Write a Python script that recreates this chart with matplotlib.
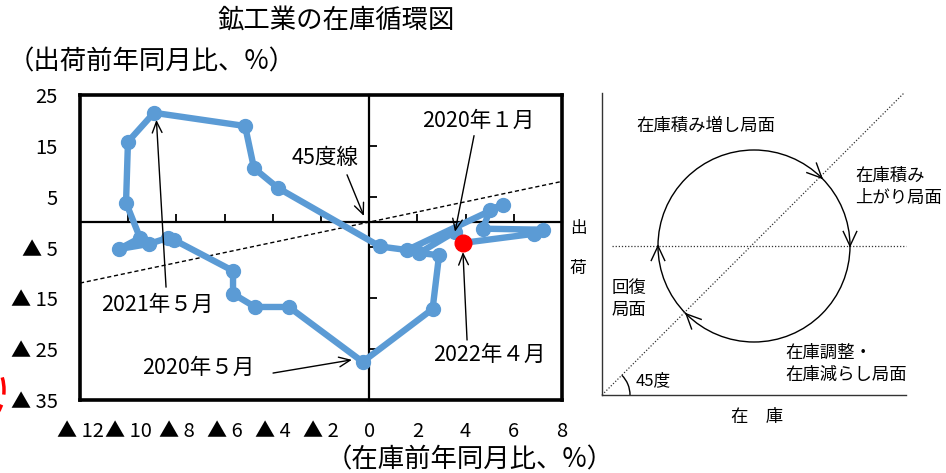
import matplotlib
matplotlib.use('Agg')
import matplotlib.pyplot as plt
from matplotlib.patches import Circle, Arc, Ellipse
import numpy as np

plt.rcParams['font.family'] = ['Noto Sans CJK JP', 'DejaVu Sans']

# ---- data (2020/1 .. 2022/4) ----
months = ['2020/1', '2020/2', '2020/3', '2020/4', '2020/5', '2020/6', '2020/7',
          '2020/8', '2020/9', '2020/10', '2020/11', '2020/12', '2021/1', '2021/2',
          '2021/3', '2021/4', '2021/5', '2021/6', '2021/7', '2021/8', '2021/9',
          '2021/10', '2021/11', '2021/12', '2022/1', '2022/2', '2022/3', '2022/4']
inventory_yoy = [3.56, 2.07, 2.90, 2.63, -0.27, -3.33, -4.74, -5.65, -5.65, -8.10,
                 -8.35, -9.14, -10.38, -9.51, -10.09, -10.01, -8.93, -5.15, -4.78,
                 -3.78, 0.45, 1.57, 5.55, 5.01, 4.72, 7.21, 6.84, 3.89]
shipments_yoy = [-1.9, -6.1, -6.5, -17.1, -27.5, -16.7, -16.7, -14.1, -9.6, -3.5,
                 -3.1, -4.3, -5.3, -3.1, 3.8, 15.8, 21.5, 18.9, 10.6, 6.7, -4.8,
                 -5.5, 3.4, 2.4, -1.3, -1.5, -2.3, -4.1]

x_ticks = [-12, -10, -8, -6, -4, -2, 0, 2, 4, 6, 8]
x_ticklabels = ['▲ 12', '▲ 10', '▲ 8', '▲ 6', '▲ 4', '▲ 2', '0', '2', '4', '6', '8']
y_ticks = [25, 15, 5, -5, -15, -25, -35]
y_ticklabels = ['25', '15', '5', '▲ 5', '▲ 15', '▲ 25', '▲ 35']
inner_x_ticks = [-10, -8, -6, -4, -2, 2, 4, 6]
inner_y_ticks = [15, 5, -5, -15, -25]

W, H = 946, 473
fig = plt.figure(figsize=(W / 100, H / 100), dpi=100)
rect = [80 / W, 1 - 400 / H, 482 / W, 305 / H]

# zero-axes (behind data)
ax0 = fig.add_axes(rect)
ax0.set_xlim(-12, 8)
ax0.set_ylim(-35, 25)
ax0.patch.set_visible(False)
for s in ['top', 'right']:
    ax0.spines[s].set_visible(False)
ax0.spines['left'].set_position(('data', 0))
ax0.spines['bottom'].set_position(('data', 0))
for s in ['left', 'bottom']:
    ax0.spines[s].set_linewidth(1.6)
ax0.set_xticks(inner_x_ticks)
ax0.set_yticks(inner_y_ticks)
ax0.tick_params(direction='in', length=6, width=1.3, labelleft=False, labelbottom=False)
ax0.set_zorder(1)

# main axes
ax = fig.add_axes(rect)
ax.set_xlim(-12, 8)
ax.set_ylim(-35, 25)
ax.patch.set_visible(False)
ax.set_zorder(2)
for s in ax.spines.values():
    s.set_linewidth(2.6)
    s.set_color('black')
ax.set_xticks(x_ticks)
ax.set_xticklabels(x_ticklabels)
ax.set_yticks(y_ticks)
ax.set_yticklabels(y_ticklabels)
ax.tick_params(axis='x', length=0, pad=15, labelsize=14.5)
ax.tick_params(axis='y', length=0, pad=16, labelsize=14.5)

# 45 degree line
diag = np.array([-12, 8])
ax.plot(diag, diag, color='black', lw=1.0, dashes=(3, 2), zorder=2)

# cycle path
ax.plot(inventory_yoy, shipments_yoy, '-o', color='#5B9BD5', lw=4.6, ms=10,
        solid_joinstyle='round', zorder=3)
ax.plot(inventory_yoy[-1], shipments_yoy[-1], 'o', color='#FF0000', ms=12, zorder=4)

# annotations
ap = dict(arrowstyle='->,head_length=0.8,head_width=0.35', lw=1.0, color='black',
          shrinkA=0, shrinkB=0)
i20_1 = months.index('2020/1')
i21_5 = months.index('2021/5')
i20_5 = months.index('2020/5')
i22_4 = months.index('2022/4')
ax.text(4.51, 19.9, '2020年１月', fontsize=15.5, ha='center', va='center')
ax.annotate('', xy=(inventory_yoy[i20_1], shipments_yoy[i20_1]), xytext=(4.35, 17.0), arrowprops=ap)
ax.text(-1.83, 12.6, '45度線', fontsize=15.5, ha='center', va='center')
ax.annotate('', xy=(-0.22, 1.2), xytext=(-0.92, 9.3), arrowprops=ap)
ax.text(-8.8, -16.3, '2021年５月', fontsize=15.5, ha='center', va='center')
ax.annotate('', xy=(inventory_yoy[i21_5] + 0.1, shipments_yoy[i21_5] - 1.4), xytext=(-8.43, -12.8), arrowprops=ap)
ax.text(-7.1, -28.7, '2020年５月', fontsize=15.5, ha='center', va='center')
ax.annotate('', xy=(inventory_yoy[i20_5] - 0.45, shipments_yoy[i20_5] + 0.4), xytext=(-3.99, -29.7), arrowprops=ap)
ax.text(5.0, -26.1, '2022年４月', fontsize=15.5, ha='center', va='center')
ax.annotate('', xy=(inventory_yoy[i22_4], shipments_yoy[i22_4] - 1.8), xytext=(4.06, -23.2), arrowprops=ap)

# titles / axis labels
fig.text(336 / W, 1 - 21 / H, '鉱工業の在庫循環図', fontsize=19, ha='center', va='center')
fig.text(8 / W, 1 - 62 / H, '（出荷前年同月比、%）', fontsize=19, ha='left', va='center')
fig.text(470 / W, 1 - 460 / H, '（在庫前年同月比、%）', fontsize=19, ha='center', va='center')

# ---- schematic on the right (pixel overlay) ----
ov = fig.add_axes([0, 0, 1, 1])
ov.set_xlim(0, W)
ov.set_ylim(H, 0)
ov.axis('off')
ov.set_zorder(3)

ox, oy = 602, 395
ov.plot([ox, ox], [93, oy], color='#333333', lw=1.0)
ov.plot([ox, 906], [oy, oy], color='#333333', lw=1.0)
ov.plot([ox, 904], [oy, 93], color='#333333', lw=0.9, ls=(0, (1, 1.5)))
cx, cy, r = 754, 246, 96
ov.plot([612, 906], [cy, cy], color='#333333', lw=0.9, ls=(0, (1, 1.5)))
ov.add_patch(Circle((cx, cy), r, fill=False, ec='black', lw=1.0))
for deg in [-45, 0, 135, 180]:
    th = np.deg2rad(deg)
    tip = np.array([cx + r * np.cos(th), cy + r * np.sin(th)])
    d = np.array([-np.sin(th), np.cos(th)])
    for a in [np.deg2rad(25), np.deg2rad(-25)]:
        rot = np.array([[np.cos(a), -np.sin(a)], [np.sin(a), np.cos(a)]])
        arm = tip - 16 * (rot @ d)
        ov.plot([tip[0], arm[0]], [tip[1], arm[1]], color='black', lw=1.0)
ov.add_patch(Arc((ox, oy), 56, 56, theta1=-45, theta2=0, color='black', lw=1.0))
ov.text(636, 381, '45度', fontsize=12, ha='left', va='center')
ov.text(706, 126, '在庫積み増し局面', fontsize=12.5, ha='center', va='center')
ov.text(855, 187, '在庫積み\n上がり局面', fontsize=12.5, ha='left', va='center', linespacing=1.3)
ov.text(612, 299, '回復\n局面', fontsize=12.5, ha='left', va='center', linespacing=1.3)
ov.text(785, 364, '在庫調整・\n在庫減らし局面', fontsize=12.5, ha='left', va='center', linespacing=1.3)
ov.text(757, 417, '在　庫', fontsize=12.5, ha='center', va='center')
ov.text(578, 228, '出', fontsize=12, ha='center', va='center')
ov.text(578, 268, '荷', fontsize=12, ha='center', va='center')

# partial red mark at the left edge
ov.add_patch(Ellipse((-16, 390), 40, 62, fill=False, ec='#FF0000', lw=2.5, ls=(0, (5, 3))))

fig.savefig('out.png', dpi=100)
